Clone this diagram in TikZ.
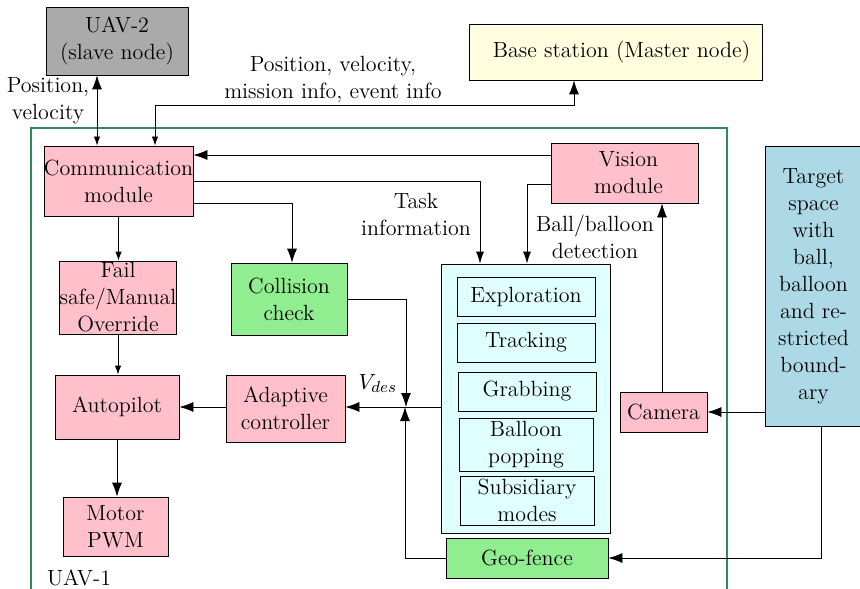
\documentclass[tikz,border=0pt]{standalone}
\usepackage{amsmath, amssymb}
\usetikzlibrary{arrows.meta}

\definecolor{boxpink}{RGB}{255,192,203}
\definecolor{boxgray}{RGB}{170,170,170}
\definecolor{boxyellow}{RGB}{255,255,224}
\definecolor{boxgreen}{RGB}{144,238,144}
\definecolor{boxblue}{RGB}{173,216,230}
\definecolor{boxcyan}{RGB}{224,255,255}
\definecolor{framegreen}{RGB}{46,139,87}

\begin{document}
\begin{tikzpicture}[x=0.5pt, y=-0.5pt,
        font=\fontsize{11}{13.5}\selectfont,
        block/.style={draw, align=center, inner sep=0pt},
        big/.style={-{Latex[length=7pt, width=5pt]}},
        medium/.style={-{Latex[length=6pt, width=4pt]}},
        small/.style={-{Latex[length=4.5pt, width=3.2pt]}}]
            \clip (0, 0) rectangle (860, 588);
            \useasboundingbox (0, 0) rectangle (860, 588);

            % outer frame of UAV-1
            \draw[framegreen, line width=1.3pt] (31, 128) rectangle (727, 640);
            \node[anchor=west] (uavone) at (40, 578){UAV-1};

            % nodes outside the frame
            \node[block, fill=boxgray, minimum width=71pt, minimum height=34pt] (uavtwo) at (117, 41){UAV-2\\(slave node)};
            \node[block, fill=boxyellow, minimum width=146.5pt, minimum height=28pt] (base) at (615.5, 52){\hspace{6pt}Base station (Master node)};
            \node[block, fill=boxblue, minimum width=48.5pt, minimum height=140pt] (target) at (813.5, 286){Target\\space\\with\\ball,\\balloon\\and re-\\stricted\\bound-\\ary};

            % nodes inside the frame
            \node[block, fill=boxpink, minimum width=71.5pt, minimum height=35pt] (comm) at (118.5, 181){Communication\\module};
            \node[block, fill=boxpink, minimum width=73.5pt, minimum height=30pt] (vision) at (624.5, 173){\hspace{4pt}Vision\\\hspace{4pt}module};
            \node[block, fill=boxpink, minimum width=58pt, minimum height=36.5pt] (failsafe) at (118, 297.5){Fail\\safe/Manual\\Override};
            \node[block, fill=boxgreen, minimum width=58pt, minimum height=36pt] (collision) at (289, 299){Collision\\check};
            \node[block, fill=boxpink, minimum width=62pt, minimum height=32pt] (autopilot) at (117, 407){Autopilot};
            \node[block, fill=boxpink, minimum width=59.5pt, minimum height=33.5pt] (adaptive) at (285.5, 408.5){Adaptive\\controller};
            \node[block, fill=boxpink, minimum width=52.5pt, minimum height=29.5pt] (motor) at (115.5, 526.5){Motor\\PWM};
            \node[block, fill=boxpink, minimum width=43.5pt, minimum height=20pt] (camera) at (663.5, 412){Camera};
            \node[block, fill=boxgreen, minimum width=81pt, minimum height=20pt] (geofence) at (527, 558){Geo-fence};

            % flight modes
            \node[block, fill=boxcyan, minimum width=84.5pt, minimum height=134.5pt] (modes) at (525.5, 398.5){};
            \node[block, fill=boxcyan, minimum width=69pt, minimum height=19.5pt] (explor) at (526, 296.5){Exploration};
            \node[block, fill=boxcyan, minimum width=69pt, minimum height=19.5pt] (track) at (526, 342.5){Tracking};
            \node[block, fill=boxcyan, minimum width=69pt, minimum height=19.5pt] (grab) at (527, 391.5){Grabbing};
            \node[block, fill=boxcyan, minimum width=67pt, minimum height=26.5pt] (popping) at (526, 444.5){Balloon\\popping};
            \node[block, fill=boxcyan, minimum width=67pt, minimum height=24.5pt] (subsid) at (527, 500.5){Subsidiary\\modes};

            \coordinate (vdes) at (406, 407);

            % communication links
            \draw[{Latex[length=7pt, width=5pt]}-{Latex[length=4.5pt, width=3.2pt]}] ([xshift=-10pt]uavtwo.south) -- ([xshift=-10.75pt]comm.north);
            \node[align=center] (poslabel) at (48, 101){Position,\\velocity};
            \draw[{Latex[length=4.5pt, width=3.2pt]}-{Latex[length=7pt, width=5pt]}] ([xshift=18.25pt]comm.north) -- ++(0, -40) -| ([xshift=-20.75pt]base.south);
            \node[align=center] (baselabel) at (333, 79){Position, velocity,\\mission info, event info};

            \draw[big] ([yshift=9pt]vision.west) -- ([yshift=9pt]vision.west -| comm.east);
            \draw[medium] (comm.east) -| ([xshift=-22.75pt]modes.north);
            \node[align=center] (tasklabel) at (416, 214){Task\\information};
            \draw[big] ([yshift=-11pt]comm.east) -| ([xshift=1.5pt]collision.north);
            \draw[medium] ([yshift=-5.5pt]vision.west) -| ([xshift=0.75pt]modes.north);
            \node[align=center] (balllabel) at (595, 237){Ball/balloon\\detection};

            % control chain
            \draw[small] (comm.south) -- (comm.south |- failsafe.north);
            \draw[small] (failsafe.south) -- (failsafe.south |- autopilot.north);
            \draw[big] (autopilot.south) -- (autopilot.south |- motor.north);
            \draw[big] (adaptive.west |- autopilot.east) -- (autopilot.east);
            \draw[big] (vdes) -- (vdes -| adaptive.east);
            \node[above left] (vdeslabel) at (404, 400){$V_{des}$};
            \draw (modes.west |- vdes) -- (vdes);
            \draw[big] (collision.east) -| (vdes);
            \draw[big] (geofence.west) -| ([xshift=-0.5pt]vdes);

            % sensing
            \draw[big] ([xshift=-0.75pt]camera.north) -- ([xshift=-0.75pt]camera.north |- vision.south);
            \draw[big] (target.west |- camera.east) -- (camera.east);
            \draw[big] ([xshift=3.75pt]target.south) |- (geofence.east);
        \end{tikzpicture}
\end{document}
